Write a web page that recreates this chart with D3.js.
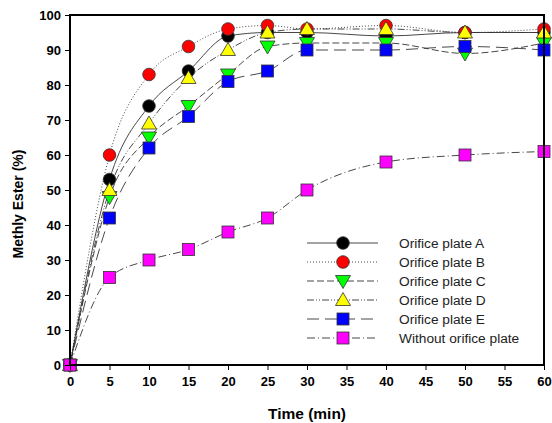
<!DOCTYPE html>
<html><head><meta charset="utf-8">
<script src="https://cdn.jsdelivr.net/npm/d3@7"></script>
<style>body{margin:0;background:#fff}svg{display:block}text{font-family:"Liberation Sans",Arial,sans-serif}</style>
</head><body><svg id="c" width="552" height="423"></svg>
<script>
const time = [0,5,10,15,20,25,30,40,50,60];
const plateA = [0,53,74,84,94,95,95,94,95,95];
const plateB = [0,60,83,91,96,97,96,97,95,96];
const plateC = [0,48,65,74,83,91,92,92,89,92];
const plateD = [0,50,69,82,90,95,96,96,95,95];
const plateE = [0,42,62,71,81,84,90,90,91,90];
const noPlate = [0,25,30,33,38,42,50,58,60,61];
const seriesNames = ["Orifice plate A","Orifice plate B","Orifice plate C","Orifice plate D","Orifice plate E","Without orifice plate"];
const xTicks = [0,5,10,15,20,25,30,35,40,45,50,55,60];
const yTicks = [0,10,20,30,40,50,60,70,80,90,100];

const styles = [
  {vals:plateA, shape:"circle", fill:"#000000", dash:null},
  {vals:plateB, shape:"circle", fill:"#ff0000", dash:"1,2"},
  {vals:plateC, shape:"tdown", fill:"#00ff00", dash:"7,3"},
  {vals:plateD, shape:"tup", fill:"#ffff00", dash:"7,2,1,2,1,2"},
  {vals:plateE, shape:"square", fill:"#0000ff", dash:"12,6"},
  {vals:noPlate, shape:"square", fill:"#ff00ff", dash:"8,3,1,3"}
];

const svg = d3.select("#c");
const L=70,R=544,T=15,B=365;
const x = d3.scaleLinear().domain([0,60]).range([L,R]);
const y = d3.scaleLinear().domain([0,100]).range([B,T]);

function marker(g, shape, fill, cx, cy){
  if(shape==="circle") g.append("circle").attr("cx",cx).attr("cy",cy).attr("r",6.3).attr("fill",fill).attr("stroke","#333").attr("stroke-width",0.8);
  else if(shape==="square") g.append("rect").attr("x",cx-6).attr("y",cy-6).attr("width",12).attr("height",12).attr("fill",fill).attr("stroke","#333").attr("stroke-width",0.8);
  else if(shape==="tup") g.append("path").attr("d",`M${cx},${cy-7.5}L${cx+7.5},${cy+5.5}L${cx-7.5},${cy+5.5}Z`).attr("fill",fill).attr("stroke","#333").attr("stroke-width",0.8);
  else g.append("path").attr("d",`M${cx},${cy+7.5}L${cx+7.5},${cy-5.5}L${cx-7.5},${cy-5.5}Z`).attr("fill",fill).attr("stroke","#333").attr("stroke-width",0.8);
}

const line = d3.line().x((d,i)=>x(time[i])).y(d=>y(d)).curve(d3.curveMonotoneX);
const lg = svg.append("g");
styles.forEach(s=>{
  lg.append("path").attr("d",line(s.vals)).attr("fill","none").attr("stroke","#333").attr("stroke-width",0.9).attr("stroke-dasharray",s.dash);
});
const mg = svg.append("g");
styles.forEach(s=>{ s.vals.forEach((v,i)=>marker(mg,s.shape,s.fill,x(time[i]),y(v))); });

svg.append("rect").attr("x",L).attr("y",T).attr("width",R-L).attr("height",B-T).attr("fill","none").attr("stroke","#000").attr("stroke-width",2);

const xa = svg.append("g").attr("transform",`translate(0,${B})`).call(d3.axisBottom(x).tickValues(xTicks).tickSize(5).tickPadding(7));
const ya = svg.append("g").attr("transform",`translate(${L},0)`).call(d3.axisLeft(y).tickValues(yTicks).tickSize(5).tickPadding(4));
[xa,ya].forEach(a=>{
  a.select(".domain").remove();
  a.selectAll("line").attr("stroke","#000").attr("stroke-width",1);
  a.selectAll("text").attr("font-size",13).attr("font-weight","bold").attr("fill","#000").style("font-family",'"Liberation Sans",Arial,sans-serif');
});

svg.append("text").attr("x",307).attr("y",419).attr("text-anchor","middle").attr("font-size",15.5).attr("font-weight","bold").text("Time (min)");
svg.append("text").attr("transform","translate(23,204) rotate(-90)").attr("text-anchor","middle").attr("font-size",14).attr("font-weight","bold").text("Methly Ester (%)");

const legY0 = 243, legDy = 19;
styles.forEach((s,i)=>{
  const yy = legY0 + i*legDy;
  lg.append("line").attr("x1",307).attr("x2",378).attr("y1",yy).attr("y2",yy).attr("stroke","#333").attr("stroke-width",0.9).attr("stroke-dasharray",s.dash);
  marker(svg, s.shape, s.fill, 343, yy);
  svg.append("text").attr("x",399).attr("y",yy+5).attr("font-size",13.7).attr("fill","#222").text(seriesNames[i]);
});
</script></body></html>
